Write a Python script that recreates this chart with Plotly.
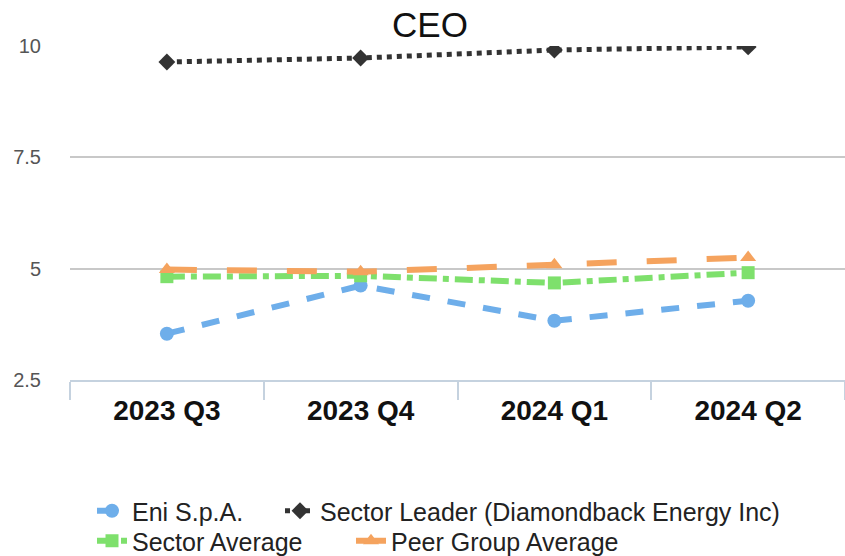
import plotly.graph_objects as go

categories = ["2023 Q3", "2023 Q4", "2024 Q1", "2024 Q2"]
eni = [3.54, 4.62, 3.83, 4.28]
leader = [9.64, 9.73, 9.91, 9.98]
sector_avg = [4.82, 4.84, 4.68, 4.91]
peer_avg = [4.98, 4.93, 5.09, 5.25]
y_ticks = [2.5, 5, 7.5, 10]
y_tick_labels = ["2.5", "5", "7.5", "10"]

W, H = 845, 556

fig = go.Figure()
fig.add_trace(go.Scatter(x=categories, y=eni, name="Eni S.p.A.", mode="lines+markers",
                         line=dict(color="#6eaeea", width=6, dash="dash"),
                         marker=dict(symbol="circle", size=14, color="#6eaeea"),
                         legend="legend"))
fig.add_trace(go.Scatter(x=categories, y=leader, name="Sector Leader (Diamondback Energy Inc)",
                         mode="lines+markers",
                         line=dict(color="#333333", width=5, dash="dot"),
                         marker=dict(symbol="diamond", size=13, color="#333333"),
                         legend="legend2"))
fig.add_trace(go.Scatter(x=categories, y=sector_avg, name="Sector Average", mode="lines+markers",
                         line=dict(color="#7ee06c", width=6, dash="dashdot"),
                         marker=dict(symbol="square", size=13, color="#7ee06c"),
                         legend="legend3"))
fig.add_trace(go.Scatter(x=categories, y=peer_avg, name="Peer Group Average", mode="lines+markers",
                         line=dict(color="#f5a35e", width=6, dash="longdash"),
                         marker=dict(symbol="triangle-up", size=14, color="#f5a35e"),
                         legend="legend4"))

def leg(xpx, ypx):
    return dict(orientation="h", xref="container", yref="container",
                x=xpx / W, xanchor="left", y=1 - ypx / H, yanchor="middle",
                font=dict(size=25, color="#222222"), itemwidth=30,
                bgcolor="rgba(0,0,0,0)")

fig.update_layout(
    width=W, height=H,
    margin=dict(l=70, r=0, t=46, b=176, autoexpand=False),
    paper_bgcolor="white", plot_bgcolor="white",
    font=dict(family="Liberation Sans, Arial, sans-serif", color="#222222"),
    title=dict(text="CEO", x=430 / W, xref="container", xanchor="center",
               y=1 - 25 / H, yref="container", yanchor="middle",
               font=dict(size=35, color="#111111")),
    xaxis=dict(type="category", range=[-0.5, 3.5], showgrid=False,
               showline=True, linecolor="#c5d2df", linewidth=2,
               ticks="outside", tickson="boundaries", ticklen=18, tickcolor="#c5d2df", tickwidth=2,
               tickfont=dict(size=28, color="#111111", family="Liberation Sans, Arial, sans-serif",
                             weight="bold"),
               ticklabelstandoff=4),
    yaxis=dict(range=[2.5, 10], tickvals=y_ticks, ticktext=y_tick_labels,
               showgrid=True, gridcolor="#c8c8c8", gridwidth=2, zeroline=False,
               showline=False, ticks="", ticklabelstandoff=28,
               tickfont=dict(size=20, color="#555555", family="Liberation Sans, Arial, sans-serif")),
    legend=leg(92, 511),
    legend2=leg(280, 511),
    legend3=leg(92, 541),
    legend4=leg(351, 541),
    showlegend=True,
)

fig.write_html("out.html", config={"displayModeBar": False},
               post_script="document.body.style.margin='0';document.body.style.overflow='hidden';")
